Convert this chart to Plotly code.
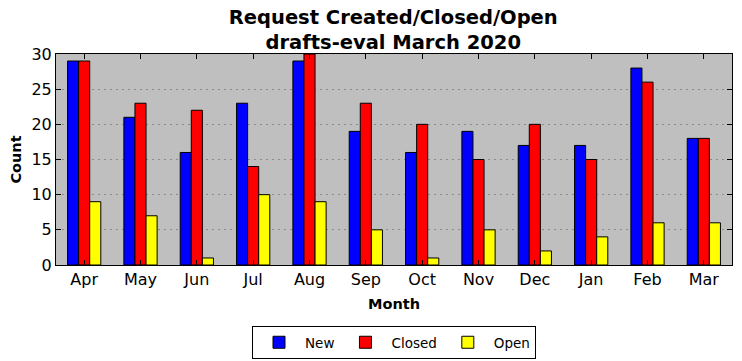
import plotly.graph_objects as go

months = ["Apr", "May", "Jun", "Jul", "Aug", "Sep", "Oct", "Nov", "Dec", "Jan", "Feb", "Mar"]
new_vals = [29, 21, 16, 23, 29, 19, 16, 19, 17, 17, 28, 18]
closed_vals = [29, 23, 22, 14, 30, 23, 20, 15, 20, 15, 26, 18]
open_vals = [9, 7, 1, 10, 9, 5, 1, 5, 2, 4, 6, 6]

series = [("New", new_vals, "#0000ff"), ("Closed", closed_vals, "#ff0000"), ("Open", open_vals, "#ffff00")]

fig = go.Figure()
for name, vals, col in series:
    fig.add_trace(go.Bar(x=months, y=vals, name=name, marker=dict(color=col, line=dict(color="black", width=1))))

fig.update_layout(
    width=742, height=361,
    margin=dict(l=56, r=10, t=54, b=96, autoexpand=False),
    paper_bgcolor="white", plot_bgcolor="#bfbfbf",
    font=dict(family="DejaVu Sans", color="black", size=12),
    barmode="group", bargap=0.41, bargroupgap=0,
    title=dict(text="<b>Request Created/Closed/Open<br>drafts-eval March 2020</b>", x=0.53, xanchor="center",
               yref="container", y=0.934, yanchor="top", font=dict(size=19.5)),
    legend=dict(orientation="h", xref="paper", x=0.5, xanchor="center", yref="container", y=0.097, yanchor="top",
                bordercolor="black", borderwidth=1, font=dict(size=13.5), traceorder="normal", itemwidth=42),
    xaxis=dict(title=dict(text="<b>Month</b>", font=dict(size=14.5), standoff=10), automargin=False, showline=True, linecolor="black", mirror="ticks",
               ticks="inside", ticklen=5, tickcolor="black", tickfont=dict(size=16), showgrid=False),
    yaxis=dict(title=dict(text="<b>Count</b>", font=dict(size=14.5), standoff=6), automargin=False, range=[0, 30], dtick=5, showline=True, linecolor="black",
               mirror="ticks", ticks="inside", ticklen=5, tickcolor="black", tickfont=dict(size=16),
               showgrid=True, gridcolor="#8c8c8c", griddash="2px,4px", gridwidth=1, zeroline=False),
)
fig.write_html("out.html", config={"displayModeBar": False}, post_script="document.body.style.margin='0';")
